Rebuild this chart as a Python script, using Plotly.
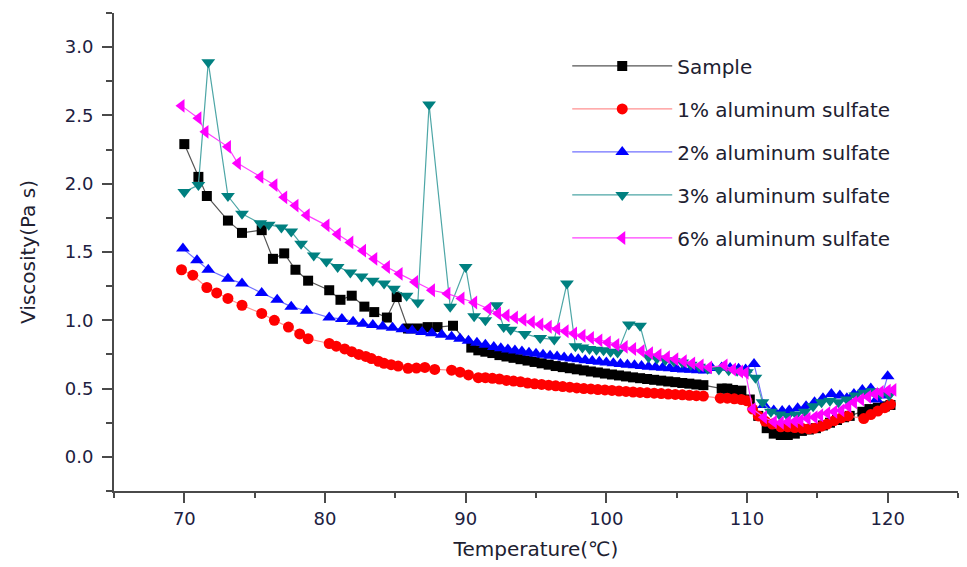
import plotly.graph_objects as go

# ---- data ----
sample_x = [70.0, 71.0, 71.6, 73.1, 74.1, 75.5, 76.3, 77.1, 77.9, 78.8, 80.3, 81.1, 81.9, 82.8, 83.5, 84.4,
            85.1, 85.9, 86.6, 87.3, 88.0, 89.1, 90.4, 90.9, 91.4, 91.9, 92.4, 92.9, 93.4, 93.9, 94.4, 94.9,
            95.4, 95.9, 96.4, 96.9, 97.4, 97.9, 98.4, 98.9, 99.4, 99.9, 100.4, 100.9, 101.4, 101.9, 102.4,
            102.9, 103.4, 103.9, 104.4, 104.9, 105.4, 105.9, 106.4, 106.9, 108.2, 108.6, 109.0, 109.6,
            110.2, 110.8, 111.4, 111.9, 112.4, 112.9, 113.4, 113.9, 114.4, 114.9, 115.4, 115.9, 116.4,
            116.9, 117.3, 118.2, 118.7, 119.3, 119.8, 120.2]
sample_y = [2.29, 2.05, 1.91, 1.73, 1.64, 1.66, 1.45, 1.49, 1.37, 1.29, 1.22, 1.15, 1.18, 1.10, 1.06, 1.02,
            1.17, 0.94, 0.94, 0.95, 0.95, 0.96, 0.80, 0.78, 0.77, 0.76, 0.745, 0.735, 0.725, 0.715, 0.705, 0.695,
            0.685, 0.675, 0.665, 0.657, 0.649, 0.641, 0.633, 0.625, 0.618, 0.61, 0.603, 0.596, 0.589, 0.582, 0.576,
            0.570, 0.564, 0.558, 0.552, 0.547, 0.541, 0.536, 0.530, 0.525, 0.50, 0.50, 0.49, 0.485,
            0.42, 0.30, 0.21, 0.17, 0.16, 0.16, 0.17, 0.19, 0.20, 0.21, 0.23, 0.25, 0.27,
            0.29, 0.30, 0.33, 0.35, 0.36, 0.37, 0.38]

al1_x = [69.8, 70.6, 71.6, 72.3, 73.1, 74.1, 75.5, 76.4, 77.4, 78.2, 78.8, 80.3, 80.8, 81.4, 81.9, 82.4,
         82.9, 83.3, 83.8, 84.2, 84.7, 85.2, 85.9, 86.5, 87.1, 87.8, 89.0, 89.6, 90.2, 90.9, 91.4, 91.9,
         92.4, 92.9, 93.4, 93.9, 94.4, 94.9, 95.4, 95.9, 96.4, 96.9, 97.4, 97.9, 98.4, 98.9, 99.4, 99.9,
         100.4, 100.9, 101.4, 101.9, 102.4, 102.9, 103.4, 103.9, 104.4, 104.9, 105.4, 105.9, 106.4, 106.9,
         108.1, 108.6, 109.1, 109.6, 110.0, 110.4, 110.8, 111.3, 111.8, 112.4, 112.9, 113.4, 113.9, 114.4,
         114.8, 115.3, 115.7, 116.2, 116.7, 117.2, 118.3, 118.8, 119.3, 119.8, 120.2]
al1_y = [1.37, 1.33, 1.24, 1.20, 1.16, 1.11, 1.05, 1.00, 0.95, 0.90, 0.865, 0.83, 0.81, 0.79, 0.77, 0.75,
         0.735, 0.72, 0.70, 0.685, 0.675, 0.665, 0.648, 0.65, 0.655, 0.64, 0.635, 0.62, 0.60, 0.58, 0.58, 0.575,
         0.57, 0.56, 0.555, 0.55, 0.54, 0.535, 0.53, 0.525, 0.52, 0.515, 0.51, 0.505, 0.50, 0.497, 0.493, 0.49,
         0.486, 0.482, 0.479, 0.475, 0.472, 0.469, 0.466, 0.463, 0.46, 0.457, 0.454, 0.451, 0.448, 0.445,
         0.43, 0.43, 0.425, 0.42, 0.41, 0.35, 0.30, 0.26, 0.24, 0.22, 0.22, 0.215, 0.21, 0.205,
         0.21, 0.225, 0.24, 0.265, 0.285, 0.30, 0.28, 0.31, 0.335, 0.36, 0.385]

al2_x = [69.9, 70.9, 71.7, 73.1, 74.1, 75.5, 76.6, 77.6, 78.7, 80.3, 81.2, 82.0, 82.7, 83.4, 84.1, 84.8,
         85.5, 86.2, 86.9, 87.6, 88.3, 89.0, 89.6, 90.2, 90.8, 91.4, 92.0, 92.5, 93.0, 93.5, 94.0, 94.5,
         95.0, 95.5, 96.0, 96.5, 97.0, 97.5, 98.0, 98.5, 99.0, 99.5, 100.0, 100.5, 101.0, 101.5, 102.0,
         102.5, 103.0, 103.5, 104.0, 104.5, 105.0, 105.5, 106.0, 106.5, 107.0, 107.5, 108.2, 108.8, 109.4,
         109.9, 110.5, 111.2, 111.9, 112.5, 113.0, 113.6, 114.2, 114.8, 115.4, 116.0, 116.6, 117.1, 117.6,
         118.2, 118.8, 119.2, 119.6, 120.0]
al2_y = [1.525, 1.44, 1.37, 1.305, 1.27, 1.20, 1.15, 1.10, 1.07, 1.02, 1.01, 0.99, 0.975, 0.965, 0.955, 0.945,
         0.935, 0.925, 0.915, 0.905, 0.895, 0.88, 0.865, 0.85, 0.835, 0.82, 0.805, 0.795, 0.787, 0.779, 0.771, 0.763,
         0.755, 0.748, 0.741, 0.734, 0.727, 0.72, 0.714, 0.708, 0.702, 0.696, 0.69, 0.685, 0.68, 0.675, 0.67,
         0.665, 0.66, 0.656, 0.652, 0.648, 0.644, 0.64, 0.637, 0.634, 0.632, 0.65, 0.655, 0.65, 0.645,
         0.64, 0.68, 0.38, 0.34, 0.335, 0.34, 0.355, 0.37, 0.40, 0.43, 0.46, 0.45, 0.43, 0.46,
         0.49, 0.50, 0.42, 0.45, 0.59]

al3_x = [70.0, 71.0, 71.7, 73.1, 74.1, 75.4, 76.0, 76.9, 77.6, 78.3, 79.2, 80.1, 80.9, 81.8, 82.6, 83.4,
         84.2, 84.9, 85.8, 86.6, 87.4, 88.9, 90.0, 90.6, 91.4, 92.2, 92.7, 93.2, 94.2, 95.3, 96.3, 97.2,
         97.8, 98.3, 98.8, 99.3, 99.8, 100.3, 100.8, 101.6, 102.4, 103.0, 103.6, 104.2, 104.8, 105.4, 106.0,
         106.6, 107.2, 108.0, 108.7, 109.3, 110.0, 110.6, 111.1, 111.7, 112.3, 112.9, 113.5, 114.1, 114.7,
         115.3, 115.9, 116.5, 117.1, 117.7, 118.3, 118.9, 119.5, 120.1]
al3_y = [1.94, 1.99, 2.89, 1.91, 1.78, 1.71, 1.70, 1.68, 1.65, 1.56, 1.475, 1.43, 1.39, 1.35, 1.32, 1.29,
         1.27, 1.23, 1.18, 1.13, 2.58, 1.10, 1.39, 1.03, 1.00, 1.11, 0.95, 0.93, 0.90, 0.87, 0.86, 1.27,
         0.81, 0.80, 0.79, 0.785, 0.78, 0.77, 0.765, 0.97, 0.96, 0.73, 0.72, 0.71, 0.70, 0.69, 0.675,
         0.66, 0.645, 0.64, 0.635, 0.63, 0.62, 0.58, 0.40, 0.33, 0.31, 0.30, 0.31, 0.33, 0.37,
         0.40, 0.41, 0.40, 0.42, 0.45, 0.47, 0.48, 0.46, 0.45]

al6_x = [69.8, 71.0, 71.5, 73.1, 73.8, 75.4, 76.4, 77.1, 77.9, 78.7, 80.1, 80.9, 81.8, 82.7, 83.5, 84.4,
         85.3, 86.4, 87.6, 88.7, 89.7, 90.6, 91.6, 92.3, 92.9, 93.5, 94.1, 94.7, 95.3, 95.9, 96.5, 97.1,
         97.7, 98.3, 98.9, 99.5, 100.1, 100.7, 101.3, 101.9, 102.5, 103.1, 103.7, 104.3, 104.9, 105.5, 106.1,
         106.7, 107.3, 108.4, 109.0, 109.5, 109.9, 110.4, 111.2, 111.9, 112.4, 112.9, 113.4, 113.8, 114.3,
         114.8, 115.2, 115.7, 116.2, 116.7, 117.2, 117.6, 118.1, 118.6, 119.1, 119.5, 120.0, 120.4]
al6_y = [2.57, 2.48, 2.38, 2.27, 2.15, 2.05, 1.99, 1.90, 1.84, 1.77, 1.695, 1.63, 1.57, 1.51, 1.45, 1.39,
         1.34, 1.28, 1.22, 1.195, 1.16, 1.13, 1.085, 1.05, 1.035, 1.02, 1.003, 0.987, 0.97, 0.953, 0.937, 0.92,
         0.903, 0.887, 0.87, 0.853, 0.837, 0.82, 0.805, 0.79, 0.775, 0.76, 0.745, 0.73, 0.715, 0.70, 0.685,
         0.67, 0.655, 0.67, 0.64, 0.625, 0.615, 0.35, 0.29, 0.256, 0.25, 0.256, 0.26, 0.268, 0.28,
         0.29, 0.305, 0.32, 0.33, 0.34, 0.37, 0.40, 0.42, 0.44, 0.46, 0.475, 0.485, 0.49]

names = ["Sample", "1% aluminum sulfate", "2% aluminum sulfate", "3% aluminum sulfate", "6% aluminum sulfate"]
xs = [sample_x, al1_x, al2_x, al3_x, al6_x]
ys = [sample_y, al1_y, al2_y, al3_y, al6_y]
marker_colors = ["#000000", "#ff0000", "#0000ff", "#008080", "#ff00ff"]
line_colors = ["#555555", "#ff9090", "#7070ff", "#4da6a6", "#ff40ff"]
symbols = ["square", "circle", "triangle-up", "triangle-down", "triangle-left"]
sizes = [10, 11, 12, 12, 12]

fig = go.Figure()
for i in range(5):
    fig.add_trace(go.Scatter(
        x=xs[i], y=ys[i], name=names[i], mode="lines+markers",
        legendgroup=f"g{i}",
        line=dict(color=line_colors[i], width=1.2),
        marker=dict(symbol=symbols[i], size=sizes[i], color=marker_colors[i], line=dict(width=0)),
    ))

axis_common = dict(
    showline=True, linecolor="#4a4a4a", linewidth=2, showgrid=False, zeroline=False,
    ticks="outside", tickcolor="#4a4a4a", tickwidth=2, ticklen=10,
    tickfont=dict(family="DejaVu Sans", size=18, color="#202040"),
    mirror=False,
)

fig.update_xaxes(range=[65, 125], dtick=10, tick0=0,
                 minor=dict(dtick=5, ticks="outside", ticklen=5, tickcolor="#4a4a4a", tickwidth=2),
                 title=dict(text="Temperature(℃)", font=dict(family="DejaVu Sans", size=20, color="#202030"), standoff=14),
                 **axis_common)
fig.update_yaxes(range=[-0.25, 3.25], dtick=0.5, tick0=0, tickformat=".1f", ticklabelstandoff=5,
                 minor=dict(dtick=0.25, ticks="outside", ticklen=6, tickcolor="#4a4a4a", tickwidth=2),
                 title=dict(text="Viscosity(Pa s)", font=dict(family="DejaVu Sans", size=20, color="#202030"), standoff=24),
                 **axis_common)

# page body has an 8px default margin, so the figure is 8px smaller and margins shifted
fig.update_layout(
    width=959, height=559,
    margin=dict(l=106, r=9, t=5, b=76),
    paper_bgcolor="white", plot_bgcolor="white",
    showlegend=True,
    legend=dict(x=0.537, y=0.93, xanchor="left", yanchor="top",
                font=dict(family="DejaVu Sans", size=20, color="#202030"),
                tracegroupgap=14, bgcolor="rgba(0,0,0,0)", itemwidth=100),
)

fig.write_html("out.html")
